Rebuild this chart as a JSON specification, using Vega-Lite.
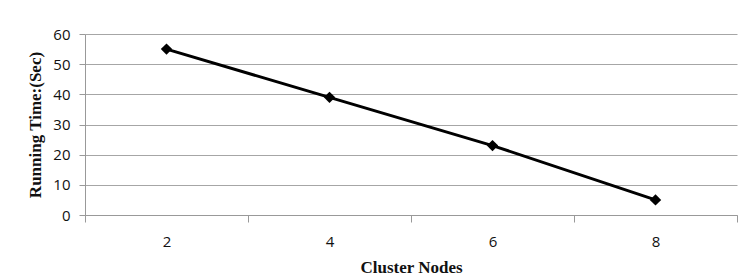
{
  "$schema": "https://vega.github.io/schema/vega-lite/v6.json",
  "width": 652,
  "height": 181,
  "autosize": {"type": "none"},
  "padding": {"left": 85, "top": 34, "right": 3, "bottom": 65},
  "background": "white",
  "config": {"view": {"stroke": null}},
  "data": {"values": [
    {"nodes": "2", "time": 55},
    {"nodes": "4", "time": 39},
    {"nodes": "6", "time": 23},
    {"nodes": "8", "time": 5}
  ]},
  "encoding": {
    "x": {
      "field": "nodes", "type": "ordinal",
      "scale": {"paddingInner": 0, "paddingOuter": 0},
      "axis": {
        "title": "Cluster Nodes", "titleFont": "Liberation Serif", "titleFontWeight": "bold", "titleFontSize": 17, "titleColor": "#111", "titlePadding": 10,
        "labelAngle": 0, "labelFont": "Open Sans", "labelFontSize": 15, "labelColor": "#111", "labelPadding": 12,
        "tickBand": "extent", "tickSize": 7, "tickColor": "#999", "domainColor": "#999", "grid": false
      }
    },
    "y": {
      "field": "time", "type": "quantitative",
      "scale": {"domain": [0, 60], "nice": false},
      "axis": {
        "title": "Running Time:(Sec)", "titleFont": "Liberation Serif", "titleFontWeight": "bold", "titleFontSize": 17, "titleColor": "#111", "titlePadding": 8,
        "values": [0, 10, 20, 30, 40, 50, 60],
        "labelFont": "Open Sans", "labelFontSize": 15, "labelColor": "#111", "labelPadding": 9,
        "tickSize": 6, "tickColor": "#999", "domainColor": "#999", "gridColor": "#a6a6a6", "gridWidth": 1
      }
    }
  },
  "layer": [
    {"mark": {"type": "line", "color": "black", "strokeWidth": 3}},
    {"mark": {"type": "point", "shape": "diamond", "filled": true, "color": "black", "size": 130, "opacity": 1}}
  ]
}
